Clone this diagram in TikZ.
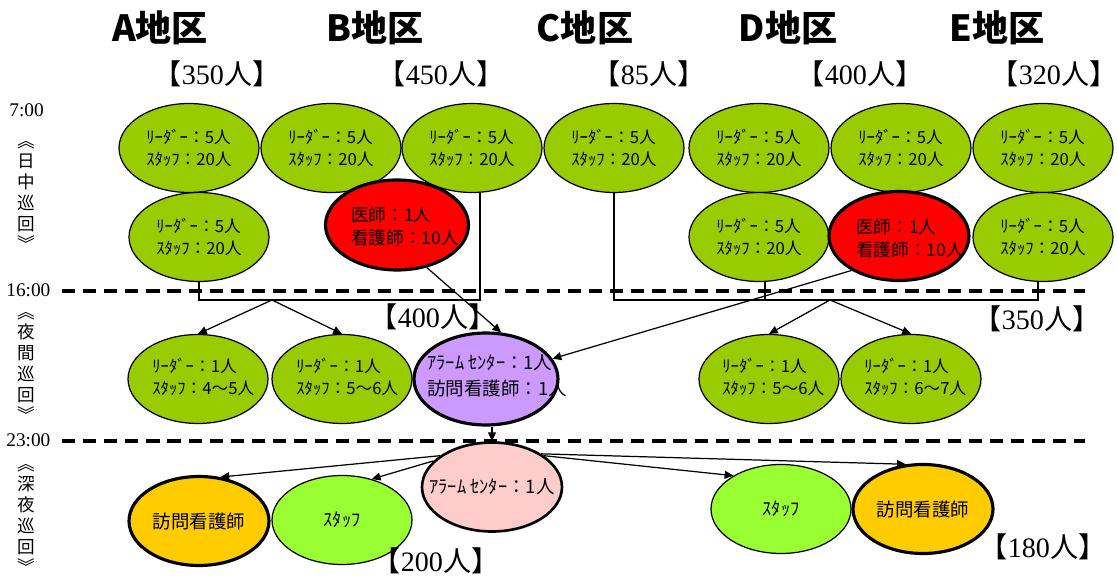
\documentclass[tikz,border=0pt]{standalone}
\usepackage{fontspec}
\setmainfont{Liberation Serif}
\newfontfamily\cjk{Noto Sans CJK JP}
\usetikzlibrary{arrows.meta,shapes.geometric}
\definecolor{leaf}{RGB}{153,204,0}
\definecolor{staffgreen}{RGB}{153,255,51}
\definecolor{docred}{RGB}{255,0,0}
\definecolor{lilac}{RGB}{204,153,255}
\definecolor{rose}{RGB}{255,204,204}
\definecolor{amber}{RGB}{255,204,0}
\newcommand\cnum[1]{{\cjk 【}#1{\cjk 人}{\cjk 】}}
\newcommand\dayteam{ﾘｰﾀﾞｰ：5人\\ｽﾀｯﾌ：20人}
\tikzset{
  ell/.style={ellipse, draw=black, line width=0.7pt, minimum width=2.8cm, minimum height=1.78cm, inner sep=0pt},
  grn/.style={ell, fill=leaf},
  bell/.style={ell, line width=1.8pt},
  txt/.style={font=\cjk\fontsize{9.5}{12.5}\selectfont, align=left, inner sep=0pt},
  big/.style={font=\cjk\fontsize{10.5}{14.5}\selectfont, align=left, inner sep=0pt},
  arr/.style={-{Triangle[length=5pt,width=4.5pt]}, line width=0.7pt},
  ln/.style={line width=0.6pt},
  sep/.style={line width=2.2pt, dash pattern=on 7.5pt off 4.5pt},
  hdr/.style={font=\cjk\bfseries\fontsize{20.5}{21}\selectfont, inner sep=0pt},
  cnt/.style={font=\fontsize{16}{17}\selectfont, inner sep=0pt},
  tim/.style={font=\fontsize{11}{12}\selectfont, anchor=west, inner sep=0pt},
  vlab/.style={font=\cjk\fontsize{10}{11.8}\selectfont, align=center, inner sep=0pt}
}
\begin{document}
\begin{tikzpicture}[x=0.02cm,y=-0.02cm]
\useasboundingbox (0,0) rectangle (1117,581);

% headers
\node[hdr] (ha) at (160,28) {A地区};
\node[hdr] (hb) at (375,28) {B地区};
\node[hdr] (hc) at (585,28) {C地区};
\node[hdr] (hd) at (788,28) {D地区};
\node[hdr] (he) at (997,28) {E地区};
\node[cnt] (ca) at (217,74) {\cnum{350}};
\node[cnt] (cb) at (441,74) {\cnum{450}};
\node[cnt] (cc) at (649,74) {\cnum{85}};
\node[cnt] (cd) at (860,74) {\cnum{400}};
\node[cnt] (ce) at (1054,74) {\cnum{320}};

% time labels
\node[tim] (t7) at (9,110) {7:00};
\node[tim] (t16) at (6,290) {16:00};
\node[tim] (t23) at (6,440) {23:00};
\node[vlab] (v1) at (26,196) {︽\\日\\中\\巡\\回\\︾};
\node[vlab] (v2) at (26,367) {︽\\夜\\間\\巡\\回\\︾};
\node[vlab] (v3) at (26,519) {︽\\深\\夜\\巡\\回\\︾};

% separators
\coordinate (s1a) at (62,291); \coordinate (s1b) at (1085,291);
\coordinate (s2a) at (62,441); \coordinate (s2b) at (1085,441);
\draw[sep] (s1a) -- (s1b);
\draw[sep] (s2a) -- (s2b);

% day patrol
\node[grn] (a1) at (189,148) {};
\node[grn] (b1) at (331,148) {};
\node[grn] (b2) at (472,148) {};
\node[grn] (c1) at (614,148) {};
\node[grn] (d1) at (759,148) {};
\node[grn] (d2) at (901,148) {};
\node[grn] (e1) at (1043,148) {};
\node[grn] (a2) at (199,237) {};
\node[bell, fill=docred, minimum width=2.86cm, minimum height=1.8cm] (rb) at (397,225) {};
\node[grn] (d3) at (759,237) {};
\node[bell, fill=docred] (rd) at (899,236) {};
\node[grn] (e2) at (1043,237) {};
\foreach \n in {a1,b1,b2,c1,d1,d2,e1,a2,d3,e2}{\node[txt] (\n t) at (\n) {\dayteam};}
\node[txt, font=\cjk\fontsize{10}{13}\selectfont, anchor=west] (rbt) at (351,226) {医師：1人\\看護師：10人};
\node[txt, font=\cjk\fontsize{10}{13}\selectfont, anchor=west] (rdt) at (856,238) {医師：1人\\看護師：10人};

% night patrol
\node[grn] (n1) at (198,379) {};
\node[grn] (n2) at (342,379) {};
\node[bell, fill=lilac, minimum width=2.88cm, minimum height=1.84cm] (pu) at (486,379) {};
\node[grn] (n3) at (769,379) {};
\node[grn] (n4) at (911,379) {};
\node[txt, anchor=west] (n1t) at (152,377) {ﾘｰﾀﾞｰ：1人\\ ｽﾀｯﾌ：4～5人};
\node[txt, anchor=west] (n2t) at (296,377) {ﾘｰﾀﾞｰ：1人\\ ｽﾀｯﾌ：5～6人};
\node[txt, anchor=west] (n3t) at (722,377) {ﾘｰﾀﾞｰ：1人\\ ｽﾀｯﾌ：5～6人};
\node[txt, anchor=west] (n4t) at (864,377) {ﾘｰﾀﾞｰ：1人\\ ｽﾀｯﾌ：6～7人};
\node[big, anchor=west] (put) at (427,376) {ｱﾗｰﾑ ｾﾝﾀｰ：1人\\訪問看護師：1人};

% late-night patrol
\node[bell, fill=amber] (oa) at (199,521) {};
\node[ell, fill=staffgreen] (sa) at (342,520) {};
\node[bell, fill=rose, line width=1.5pt] (pk) at (492,487) {};
\node[ell, fill=staffgreen] (sb) at (781,509) {};
\node[bell, fill=amber] (ob) at (923,509) {};
\node[big] (oat) at (oa) {訪問看護師};
\node[big] (sat) at (sa) {ｽﾀｯﾌ};
\node[big] (pkt) at (pk) {ｱﾗｰﾑ ｾﾝﾀｰ：1人};
\node[big] (sbt) at (sb) {ｽﾀｯﾌ};
\node[big] (obt) at (ob) {訪問看護師};

% counts by shift
\node[cnt] (c400) at (433,317) {\cnum{400}};
\node[cnt] (c350) at (1037,319) {\cnum{350}};
\node[cnt] (c200) at (436,561) {\cnum{200}};
\node[cnt] (c180) at (1043,547) {\cnum{180}};

% connectors
\coordinate (lr) at (480,300);
\coordinate (lapex) at (272,300);
\draw[ln] (a2.south) |- (lr) -- (lr |- b2.south);
\draw[arr] (lapex) -- (n1.north);
\draw[arr] (lapex) -- (n2.north);
\coordinate (rr) at (1038,300);
\coordinate (rm) at (765,300);
\coordinate (rapex) at (830,300);
\draw[ln] (c1.south) |- (rr) -- (rr |- e2.south);
\draw[ln] (rm) -- (rm |- d3.south);
\draw[arr] (rapex) -- (n3.north);
\draw[arr] (rapex) -- (n4.north);
\draw[arr] (rb.-55) -- (pu.72);
\draw[arr] (rd.-144) -- (pu.17);
\draw[arr] (pk.north |- pu.south) -- (pk.north);
\draw[arr] (pk.149) -- (oa.64);
\draw[arr] (pk.156) -- (sa.54);
\draw[arr] (pk.31) -- (sb.145);
\draw[arr] (pk.34) -- (ob.111);
\end{tikzpicture}
\end{document}
